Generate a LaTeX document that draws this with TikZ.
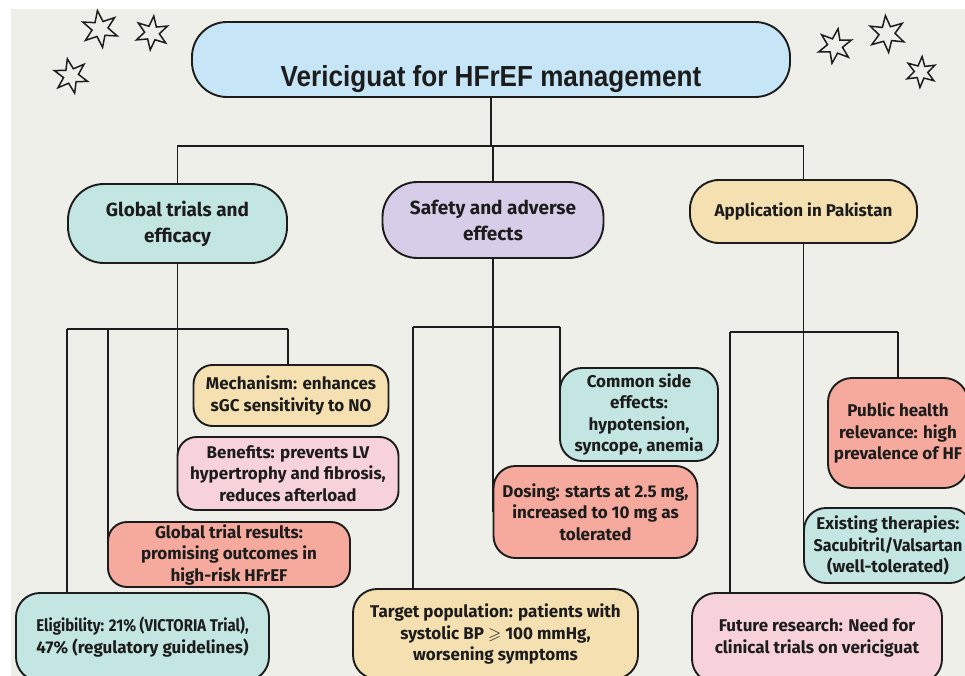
\documentclass[tikz,border=0pt]{standalone}
\usepackage{amssymb}
\usepackage{fontspec}
\setmainfont{Fira Sans}
\newfontfamily\headfont[FakeStretch=0.9]{Liberation Sans}
\usetikzlibrary{shapes.geometric}
\pgfdeclarelayer{back}
\pgfdeclarelayer{wires}
\pgfsetlayers{back,wires,main}

\definecolor{paper}{HTML}{EFEFEA}
\definecolor{ink}{HTML}{1C1C1C}
\definecolor{skyfill}{HTML}{C6E5F6}
\definecolor{tealfill}{HTML}{C3E6E2}
\definecolor{lilacfill}{HTML}{D7CDE8}
\definecolor{sandfill}{HTML}{F5E0B2}
\definecolor{rosefill}{HTML}{F8D2DA}
\definecolor{coralfill}{HTML}{F5AA9D}

\begin{document}
\begin{tikzpicture}[x=1pt,y=-1pt,
  every node/.style={text=ink},
  wire/.style={draw=ink,line width=1.9pt},
  basebox/.style={draw=ink,line width=1.9pt,align=center,inner sep=0pt},
  titlebox/.style={basebox,fill=skyfill,rounded corners=35pt},
  headbox/.style={basebox,rounded corners=36pt,
    font=\bfseries\fontsize{19}{26}\selectfont},
  leafbox/.style={basebox,rounded corners=19pt,
    font=\bfseries\fontsize{17}{21.5}\selectfont},
  starmark/.style={star,star points=6,star point ratio=2.3,draw=ink,
    line width=1.5pt,minimum size=#1,inner sep=0pt},
  starmark/.default=34pt
]
\useasboundingbox (0,0) rectangle (965,676);
\clip (0,0) rectangle (965,676);

\begin{pgfonlayer}{back}
  \fill[white] (0,0) rectangle (965,676);
  \fill[paper] (11,9) rectangle (965,676);
\end{pgfonlayer}

% decorative stars
\node[starmark=37pt,rotate=8]  (starA) at (100,29) {};
\node[starmark=34pt,rotate=-6] (starB) at (152,33) {};
\node[starmark=35pt,rotate=12] (starC) at (71,76) {};
\node[starmark=35pt,rotate=-10] (starD) at (835,46) {};
\node[starmark=37pt,rotate=5]  (starE) at (887,34) {};
\node[starmark=31pt,rotate=-4] (starF) at (921,72) {};

% root: text sits in the lower part of the pill
\node[titlebox,minimum width=598pt,minimum height=75pt] (title) at (491,59.5) {};
\node[font=\headfont\bfseries\fontsize{29}{32}\selectfont,anchor=base] (titletext) at (491,87)
  {Vericiguat for HFrEF management};

% branches
\node[headbox,fill=tealfill,minimum width=219pt,minimum height=79pt] (glob) at (177.5,223.5)
  {Global trials and\\efficacy};
\node[headbox,fill=lilacfill,rounded corners=35pt,minimum width=221pt,minimum height=76pt] (safe) at (493,220)
  {Safety and adverse\\effects};
\node[headbox,fill=sandfill,rounded corners=29pt,minimum width=227pt,minimum height=63pt,
  font=\bfseries\fontsize{17}{22}\selectfont] (app) at (803.5,211.5)
  {Application in Pakistan};

% global trials leaves
\node[leafbox,fill=sandfill,minimum width=195pt,minimum height=61pt] (mech) at (291,395.5)
  {Mechanism: enhances\\sGC sensitivity to NO};
\node[leafbox,fill=rosefill,minimum width=221pt,minimum height=73pt] (bene) at (288,473.5)
  {Benefits: prevents LV\\hypertrophy and fibrosis,\\reduces afterload};
\node[leafbox,fill=coralfill,minimum width=242pt,minimum height=65pt] (gres) at (229,554.5)
  {Global trial results:\\promising outcomes in\\high-risk HFrEF};
\node[leafbox,fill=tealfill,minimum width=253pt,minimum height=88pt,rounded corners=24pt] (elig) at (142.5,637)
  {\scalebox{0.88}[1]{Eligibility: 21\% (VICTORIA Trial),}\\47\% (regulatory guidelines)};

% safety leaves
\node[leafbox,fill=tealfill,minimum width=158pt,minimum height=93pt,rounded corners=22pt] (side) at (639,414.5)
  {Common side\\effects:\\hypotension,\\syncope, anemia};
\node[leafbox,fill=coralfill,minimum width=204pt,minimum height=92pt,rounded corners=22pt] (dose) at (595.5,512)
  {Dosing: starts at 2.5 mg,\\increased to 10 mg as\\tolerated};
\node[leafbox,fill=sandfill,minimum width=285pt,minimum height=90pt,rounded corners=24pt] (targ) at (495.5,634)
  {Target population: patients with\\systolic BP $\geqslant$ 100 mmHg,\\worsening symptoms};

% Pakistan leaves
\node[leafbox,fill=coralfill,minimum width=140pt,minimum height=110pt,rounded corners=24pt] (pub) at (898,433)
  {Public health\\relevance: high\\prevalence of HF};
\node[leafbox,fill=tealfill,minimum width=168pt,minimum height=75pt,rounded corners=22pt] (exist) at (888,545.5)
  {Existing therapies:\\\scalebox{0.95}[1]{Sacubitril/Valsartan}\\(well-tolerated)};
\node[leafbox,fill=rosefill,minimum width=250pt,minimum height=90pt,rounded corners=24pt] (fut) at (817,638)
  {Future research: Need for\\clinical trials on vericiguat};

% bus lines
\coordinate (rootbus) at (491,146);
\coordinate (gL) at (67,329);
\coordinate (gM) at (108,329);
\coordinate (gR) at (288,329);
\coordinate (sL) at (413,327);
\coordinate (sR) at (560,327);
\coordinate (aL) at (730,332);
\coordinate (aR) at (898,332);

\begin{pgfonlayer}{wires}
  % root to branches
  \draw[wire] (title.south) -- (rootbus);
  \draw[wire] (glob.north) -- (glob.north |- rootbus) -- (app.north |- rootbus) -- (app.north);
  \draw[wire] (safe.north) -- (safe.north |- rootbus);
  % global trials
  \draw[wire] (glob.south) -- (glob.south |- bene.west);
  \draw[wire] (gL) -- (gR);
  \draw[wire] (gL) -- (gL |- elig.north);
  \draw[wire] (gM) -- (gM |- gres.west);
  \draw[wire] (gR) -- (gR |- mech.north);
  % safety
  \draw[wire] (safe.south) -- (safe.south |- dose.west);
  \draw[wire] (sL) -- (sR);
  \draw[wire] (sL) -- (sL |- targ.north);
  \draw[wire] (sR) -- (sR |- side.west);
  % Pakistan
  \draw[wire] (app.south) -- (app.south |- exist.west);
  \draw[wire] (aL) -- (aR);
  \draw[wire] (aL) -- (aL |- fut.north);
  \draw[wire] (aR) -- (aR |- pub.north);
\end{pgfonlayer}
\end{tikzpicture}
\end{document}
